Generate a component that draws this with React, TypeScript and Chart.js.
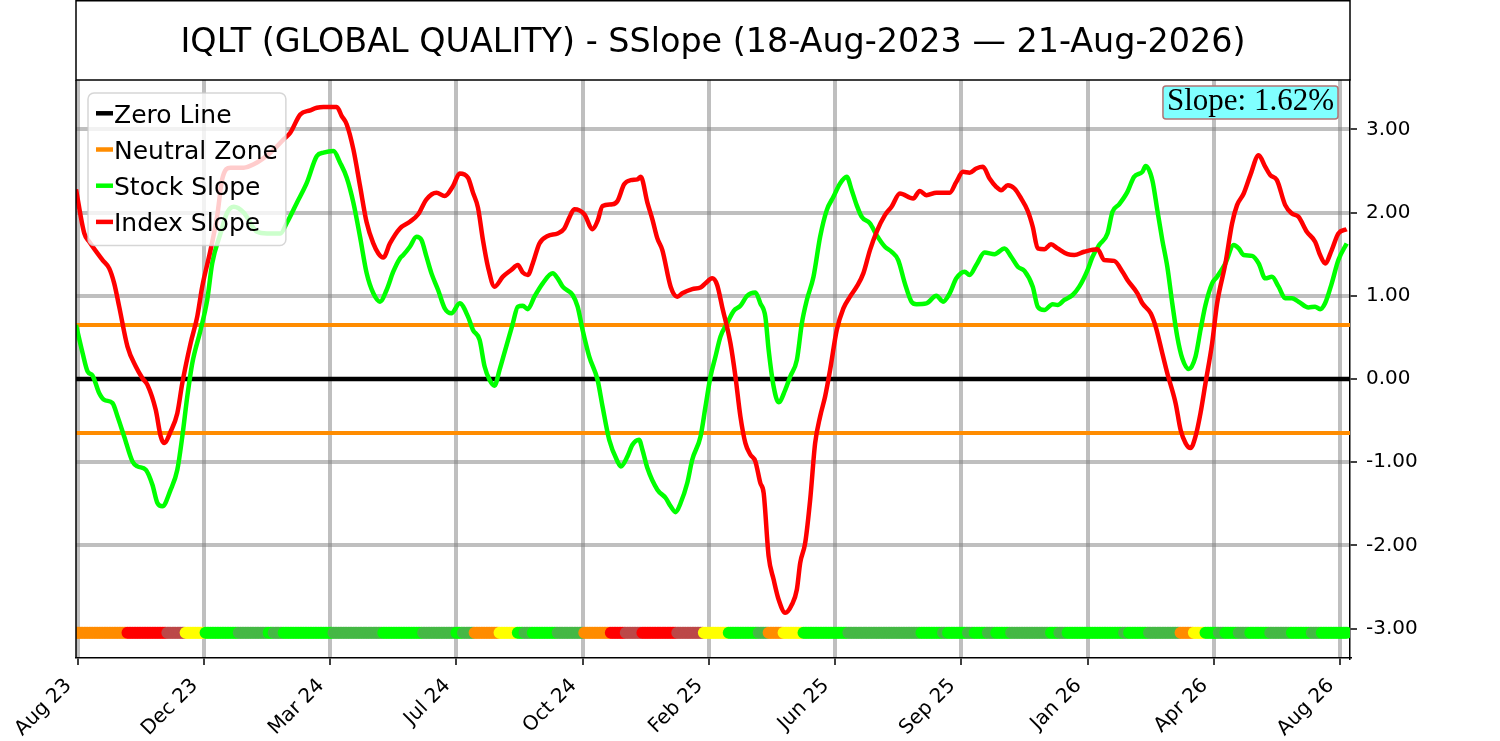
import React, { useEffect, useRef } from "react";
import { Chart, registerables } from "chart.js";

Chart.register(...registerables);

// ---------- text ----------
const CHART_TITLE = "IQLT (GLOBAL QUALITY) - SSlope (18-Aug-2023 — 21-Aug-2026)";
const SLOPE_LABEL = "Slope: 1.62%";

// ---------- axes ----------
const tickDays = [1, 77, 153, 229, 305, 381, 457, 533, 609, 685, 761];
const tickLabels = ["Aug 23", "Dec 23", "Mar 24", "Jul 24", "Oct 24", "Feb 25", "Jun 25", "Sep 25", "Jan 26", "Apr 26", "Aug 26"];
const yTicks = [-3, -2, -1, 0, 1, 2, 3];
const X_MIN = 0;
const X_MAX = 767;
const Y_MIN = -3.353;
const Y_MAX = 3.594;

// ---------- reference levels ----------
const ZERO_LEVEL = 0;
const NEUTRAL_BAND = 0.65;
const STRIP_LEVEL = -3.05;

// ---------- index slope (trading-day index, value) ----------
const indexDays = [0,5,8,16,20,23,26,31,36,40,43,48,51,53,57,61,64,69,73,76,81,85,88,93,101,107,117,125,129,135,141,145,149,157,160,163,167,171,175,179,182,185,189,195,201,206,211,217,222,227,231,236,239,242,245,248,252,257,262,266,269,272,275,279,284,290,294,297,300,306,311,314,317,323,326,330,334,338,340,344,347,350,353,358,362,365,371,376,379,383,386,389,394,397,400,403,406,409,412,414,417,420,423,427,431,434,436,439,442,445,448,451,454,458,462,466,470,474,478,482,487,491,496,504,508,512,518,526,530,534,538,542,546,550,554,557,561,565,569,573,576,579,583,587,591,597,601,607,615,619,625,630,633,639,642,647,650,654,657,662,665,668,671,674,677,680,684,687,692,696,699,703,707,712,716,719,723,728,732,736,741,746,749,752,756,760,765];
const indexSlope = [2.28,1.75,1.65,1.43,1.33,1.15,0.87,0.39,0.15,0.01,-0.07,-0.37,-0.69,-0.77,-0.63,-0.41,-0.05,0.43,0.75,1.11,1.55,1.96,2.40,2.54,2.54,2.58,2.72,2.88,2.96,3.18,3.23,3.26,3.27,3.27,3.16,3.06,2.76,2.32,1.88,1.63,1.51,1.46,1.63,1.81,1.89,1.98,2.16,2.24,2.20,2.32,2.47,2.42,2.24,2.06,1.67,1.35,1.11,1.23,1.31,1.37,1.28,1.25,1.39,1.63,1.72,1.75,1.81,1.94,2.04,1.98,1.80,1.90,2.08,2.10,2.14,2.34,2.39,2.40,2.43,2.12,1.92,1.69,1.55,1.11,0.99,1.03,1.08,1.10,1.15,1.21,1.13,0.87,0.43,0.03,-0.45,-0.77,-0.91,-0.99,-1.25,-1.37,-2.13,-2.41,-2.65,-2.81,-2.71,-2.53,-2.21,-1.97,-1.45,-0.77,-0.45,-0.21,0.11,0.59,0.85,0.99,1.11,1.27,1.55,1.77,1.97,2.07,2.23,2.17,2.26,2.21,2.24,2.24,2.37,2.49,2.48,2.53,2.55,2.41,2.31,2.27,2.33,2.29,2.17,2.02,1.83,1.57,1.56,1.62,1.57,1.50,1.49,1.53,1.56,1.43,1.42,1.29,1.19,1.03,0.91,0.79,0.63,0.31,0.07,-0.29,-0.61,-0.77,-0.83,-0.69,-0.41,-0.05,0.43,0.91,1.39,1.87,2.09,2.23,2.45,2.69,2.55,2.45,2.39,2.09,1.99,1.95,1.77,1.65,1.49,1.39,1.55,1.75,1.80];

// ---------- stock slope (trading-day index, value) ----------
const stockDays = [0,4,7,10,14,17,22,25,29,34,37,42,46,49,52,57,61,64,67,70,75,79,82,87,91,95,101,109,115,123,127,133,139,145,149,155,159,163,167,171,175,179,183,187,191,195,197,201,205,208,211,214,218,222,226,231,236,239,243,246,249,252,255,259,263,266,269,272,276,281,287,290,293,299,302,305,309,314,317,321,326,328,332,335,339,341,344,350,355,358,361,364,368,371,376,379,382,385,388,392,396,400,404,409,412,415,417,420,423,427,430,434,437,440,444,448,452,456,460,464,467,470,473,478,482,487,491,495,499,503,506,512,518,522,526,530,535,538,542,547,553,559,563,567,571,576,579,583,588,591,595,600,604,609,612,616,621,624,628,633,637,642,644,648,651,654,657,660,663,666,670,674,677,680,684,687,692,697,700,703,708,712,716,720,724,728,732,736,742,746,749,752,756,760,765];
const stockSlope = [0.65,0.31,0.09,0.04,-0.17,-0.25,-0.29,-0.45,-0.69,-0.99,-1.05,-1.09,-1.27,-1.49,-1.53,-1.33,-1.09,-0.69,-0.21,0.19,0.59,0.95,1.39,1.75,2.00,2.07,2.00,1.77,1.75,1.75,1.88,2.12,2.36,2.68,2.72,2.74,2.60,2.42,2.12,1.71,1.27,1.03,0.93,1.07,1.29,1.45,1.49,1.59,1.71,1.67,1.47,1.27,1.07,0.85,0.79,0.91,0.75,0.59,0.47,0.15,-0.01,-0.08,0.11,0.39,0.67,0.87,0.88,0.84,0.99,1.15,1.27,1.21,1.11,1.01,0.87,0.59,0.27,-0.01,-0.33,-0.73,-0.99,-1.05,-0.93,-0.79,-0.73,-0.85,-1.07,-1.33,-1.43,-1.53,-1.60,-1.49,-1.25,-0.97,-0.69,-0.33,0.03,0.27,0.51,0.67,0.82,0.88,1.00,1.04,0.91,0.75,0.35,-0.09,-0.28,-0.13,0.03,0.23,0.67,0.95,1.23,1.71,2.03,2.19,2.35,2.43,2.27,2.09,1.95,1.87,1.73,1.59,1.53,1.43,1.15,0.93,0.90,0.91,1.00,0.93,1.03,1.21,1.29,1.25,1.37,1.52,1.50,1.57,1.47,1.35,1.30,1.11,0.87,0.83,0.90,0.89,0.95,1.01,1.11,1.31,1.47,1.61,1.75,2.01,2.10,2.25,2.43,2.49,2.56,2.39,2.03,1.67,1.35,0.91,0.51,0.25,0.12,0.27,0.59,0.89,1.15,1.23,1.39,1.61,1.57,1.49,1.48,1.39,1.21,1.23,1.11,0.97,0.97,0.93,0.86,0.87,0.84,0.91,1.15,1.43,1.63];

// ---------- state strip (run-length: first trading day of each run, state) ----------
const stripStarts = [0,31,55,66,78,98,116,119,125,155,185,209,229,233,240,255,266,270,275,290,306,322,331,341,362,378,393,411,417,426,438,465,509,522,525,537,541,549,554,563,587,592,597,631,634,646,665,673,680,688,692,700,707,719,732,744,750];
const stripStates = ["O","R","B","Y","L","G","L","G","L","G","L","G","L","G","O","Y","L","G","L","G","O","R","B","R","B","Y","L","G","O","Y","L","G","L","G","L","G","L","G","L","G","L","G","L","G","L","G","O","Y","L","G","L","G","L","G","L","G","L"];
const STRIP_END = 766;

// ---------- styles ----------
const FONT = "'DejaVu Sans', sans-serif";
const ORANGE = "#ff8c00";
const stateColors: Record<string, string> = {
  O: "#ff8c00",
  R: "#ff0000",
  B: "#bc4848",
  Y: "#ffff00",
  L: "#00ff00",
  G: "#45b845",
};
const GRID = "rgba(128,128,128,0.5)";

function buildStrip() {
  const pts: { x: number; y: number }[] = [];
  const cols: string[] = [];
  for (let i = 0; i < stripStarts.length; i++) {
    const end = i + 1 < stripStarts.length ? stripStarts[i + 1] : STRIP_END;
    for (let d = stripStarts[i]; d < end; d++) {
      pts.push({ x: d, y: STRIP_LEVEL });
      cols.push(stateColors[stripStates[i]]);
    }
  }
  return { pts, cols };
}

const overlayPlugin = {
  id: "overlay",
  afterDatasetsDraw(chart: any) {
    const { ctx, chartArea: a } = chart;
    ctx.save();
    // legend
    const entries = chart.data.datasets.filter((d: any) => d.label);
    ctx.font = `25px ${FONT}`;
    let maxW = 0;
    entries.forEach((d: any) => (maxW = Math.max(maxW, ctx.measureText(d.label).width)));
    const lx = a.left + 12;
    const ly = a.top + 13;
    const lw = 26 + maxW + 8;
    const rowH = 36.2;
    const lh = 20 + rowH * (entries.length - 1) + 24;
    ctx.beginPath();
    ctx.roundRect(lx, ly, lw, lh, 6);
    ctx.fillStyle = "rgba(255,255,255,0.8)";
    ctx.fill();
    ctx.strokeStyle = "rgba(204,204,204,0.8)";
    ctx.lineWidth = 1.5;
    ctx.stroke();
    entries.forEach((d: any, i: number) => {
      const ry = ly + 20.3 + i * rowH;
      ctx.beginPath();
      ctx.moveTo(lx + 8, ry);
      ctx.lineTo(lx + 25, ry);
      ctx.strokeStyle = d.borderColor;
      ctx.lineWidth = 4.5;
      ctx.stroke();
      ctx.fillStyle = "#000";
      ctx.textAlign = "left";
      ctx.textBaseline = "alphabetic";
      ctx.fillText(d.label, lx + 26, ry + 9.2);
    });
    // slope annotation
    ctx.font = "31px 'Liberation Serif', serif";
    const tw = ctx.measureText(SLOPE_LABEL).width;
    const bw = tw + 8;
    const bx = a.right - 12 - bw;
    const by = a.top + 6;
    const bh = 33;
    ctx.beginPath();
    ctx.roundRect(bx, by, bw, bh, 3);
    ctx.fillStyle = "#80ffff";
    ctx.fill();
    ctx.strokeStyle = "#b07474";
    ctx.lineWidth = 1.5;
    ctx.stroke();
    ctx.fillStyle = "#000";
    ctx.textAlign = "center";
    ctx.textBaseline = "alphabetic";
    ctx.fillText(SLOPE_LABEL, bx + bw / 2, by + 23.5);
    ctx.restore();
  },
  afterDraw(chart: any) {
    const { ctx, chartArea: a } = chart;
    ctx.save();
    ctx.strokeStyle = "#000";
    ctx.lineWidth = 1.5;
    // title box
    ctx.strokeRect(a.left, 0.75, a.right - a.left, a.top - 0.75);
    // left spine
    ctx.beginPath();
    ctx.moveTo(a.left, a.top);
    ctx.lineTo(a.left, a.bottom);
    ctx.stroke();
    ctx.font = `33.4px ${FONT}`;
    ctx.fillStyle = "#000";
    ctx.textAlign = "center";
    ctx.textBaseline = "alphabetic";
    ctx.fillText(CHART_TITLE, (a.left + a.right) / 2, a.top / 2 + 12);
    ctx.restore();
  },
};

export default function App() {
  const ref = useRef<HTMLCanvasElement | null>(null);

  useEffect(() => {
    if (!ref.current) return;
    const strip = buildStrip();
    const lineBase = { pointRadius: 0, fill: false, cubicInterpolationMode: "monotone" as const, clip: 0 };
    const chart = new Chart(ref.current, {
      type: "line",
      data: {
        datasets: [
          {
            ...lineBase,
            label: "Zero Line",
            data: [{ x: X_MIN, y: ZERO_LEVEL }, { x: X_MAX, y: ZERO_LEVEL }],
            borderColor: "#000000",
            borderWidth: 4.5,
            order: 5,
          },
          {
            ...lineBase,
            label: "Neutral Zone",
            data: [{ x: X_MIN, y: NEUTRAL_BAND }, { x: X_MAX, y: NEUTRAL_BAND }],
            borderColor: ORANGE,
            borderWidth: 4,
            order: 4,
          },
          {
            ...lineBase,
            label: "",
            data: [{ x: X_MIN, y: -NEUTRAL_BAND }, { x: X_MAX, y: -NEUTRAL_BAND }],
            borderColor: ORANGE,
            borderWidth: 4,
            order: 4,
          },
          {
            ...lineBase,
            label: "Stock Slope",
            data: stockDays.map((d, i) => ({ x: d, y: stockSlope[i] })),
            borderColor: "#00ff00",
            borderWidth: 4.5,
            order: 3,
          },
          {
            ...lineBase,
            label: "Index Slope",
            data: indexDays.map((d, i) => ({ x: d, y: indexSlope[i] })),
            borderColor: "#ff0000",
            borderWidth: 4.5,
            order: 2,
          },
          {
            label: "",
            data: strip.pts,
            showLine: false,
            pointRadius: 6,
            pointBackgroundColor: strip.cols,
            pointBorderColor: strip.cols,
            pointBorderWidth: 0,
            borderColor: "rgba(0,0,0,0)",
            clip: 0,
            order: 1,
          } as any,
        ],
      },
      options: {
        responsive: false,
        animation: false,
        devicePixelRatio: 1,
        events: [],
        layout: { padding: { left: 76, top: 80, right: 0, bottom: 0 } },
        plugins: {
          legend: { display: false },
          tooltip: { enabled: false },
          title: { display: false },
        },
        scales: {
          x: {
            type: "linear",
            min: X_MIN,
            max: X_MAX,
            afterBuildTicks: (s: any) => {
              s.ticks = tickDays.map((v) => ({ value: v }));
            },
            afterFit: (s: any) => {
              s.height = 83;
            },
            ticks: {
              autoSkip: false,
              minRotation: 45,
              maxRotation: 45,
              padding: 0,
              color: "#000",
              font: { family: FONT, size: 20 },
              callback: (_v: any, i: number) => (tickLabels[i] ?? "") + "  ",
            },
            grid: {
              color: GRID,
              lineWidth: 4,
              drawTicks: true,
              tickLength: 7,
              tickColor: "#000",
              tickWidth: 1.5,
            },
            border: { display: true, color: "#000", width: 1.5 },
          },
          y: {
            type: "linear",
            position: "right",
            min: Y_MIN,
            max: Y_MAX,
            afterBuildTicks: (s: any) => {
              s.ticks = yTicks.map((v) => ({ value: v }));
            },
            afterFit: (s: any) => {
              s.width = 150;
            },
            ticks: {
              padding: 9,
              color: "#000",
              font: { family: FONT, size: 20 },
              callback: (v: any) => Number(v).toFixed(2),
            },
            grid: {
              color: GRID,
              lineWidth: 4,
              drawTicks: true,
              tickLength: 7,
              tickColor: "#000",
              tickWidth: 1.5,
            },
            border: { display: true, color: "#000", width: 1.5 },
          },
        },
      },
      plugins: [overlayPlugin],
    });
    return () => chart.destroy();
  }, []);

  return (
    <div style={{ position: "absolute", left: 0, top: 0, width: 1500, height: 741, background: "#fff" }}>
      <canvas ref={ref} width={1500} height={741} style={{ display: "block", width: 1500, height: 741 }} />
    </div>
  );
}
